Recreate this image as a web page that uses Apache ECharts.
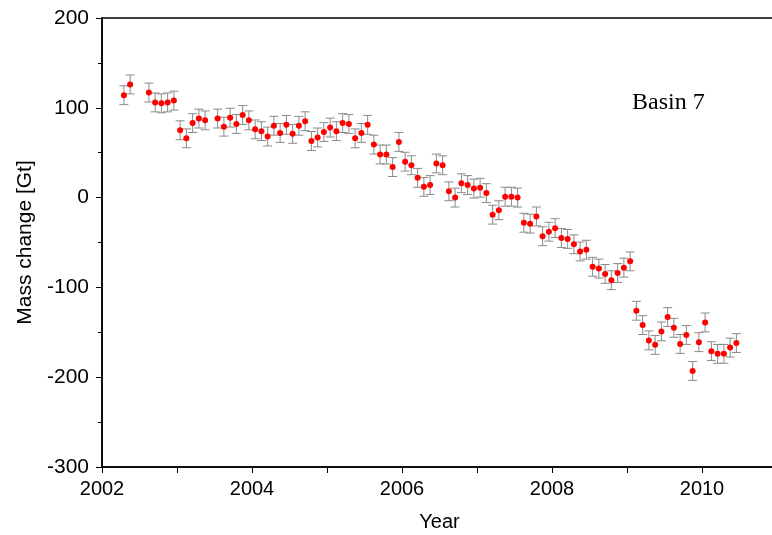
<!DOCTYPE html>
<html>
<head>
<meta charset="utf-8">
<script src="https://cdn.jsdelivr.net/npm/echarts@6/dist/echarts.min.js"></script>
<style>
html,body{margin:0;padding:0;background:#fff;}
#chart{width:772px;height:535px;}
</style>
</head>
<body>
<div id="chart"></div>
<script>
// Monthly samples (YYYY-MM) and mass change values [Gt]
var months = [
 '2002-04','2002-05','2002-08','2002-09','2002-10','2002-11','2002-12',
 '2003-01','2003-02','2003-03','2003-04','2003-05','2003-07','2003-08','2003-09','2003-10','2003-11','2003-12',
 '2004-01','2004-02','2004-03','2004-04','2004-05','2004-06','2004-07','2004-08','2004-09','2004-10','2004-11','2004-12',
 '2005-01','2005-02','2005-03','2005-04','2005-05','2005-06','2005-07','2005-08','2005-09','2005-10','2005-11','2005-12',
 '2006-01','2006-02','2006-03','2006-04','2006-05','2006-06','2006-07','2006-08','2006-09','2006-10','2006-11','2006-12',
 '2007-01','2007-02','2007-03','2007-04','2007-05','2007-06','2007-07','2007-08','2007-09','2007-10','2007-11','2007-12',
 '2008-01','2008-02','2008-03','2008-04','2008-05','2008-06','2008-07','2008-08','2008-09','2008-10','2008-11','2008-12',
 '2009-01','2009-02','2009-03','2009-04','2009-05','2009-06','2009-07','2009-08','2009-09','2009-10','2009-11','2009-12',
 '2010-01','2010-02','2010-03','2010-04','2010-05','2010-06'
];
var massChange = [
 114,126,117,106,105,106,108,
 75,66,83,88,86,88,79,89,82,92,86,
 76,74,68,80,72,81,71,80,85,63,67,73,
 78,74,83,82,66,72,81,59,48,48,34,62,
 40,36,22,12,14,38,36,7,0,16,14,10,
 11,5,-19,-14,1,1,0,-28,-29,-21,-43,-38,
 -34,-45,-46,-52,-60,-58,-77,-79,-85,-92,-84,-78,
 -71,-126,-142,-159,-164,-149,-133,-145,-163,-153,-193,-161,
 -139,-171,-174,-174,-167,-162
];
var errorGt = 10.5;
var xTicks = [2002, 2004, 2006, 2008, 2010];
var yTicks = [-300, -200, -100, 0, 100, 200];

function toYear(s){ var p = s.split('-'); return +p[0] + (+p[1] - 0.5) / 12; }
var pts = months.map(function(m, i){ return [toYear(m), massChange[i]]; });
var bars = months.map(function(m, i){ return [toYear(m), massChange[i] - errorGt, massChange[i] + errorGt]; });

var chart = echarts.init(document.getElementById('chart'), null, {renderer:'canvas'});
var font = '"Liberation Sans", Helvetica, Arial, sans-serif';
chart.setOption({
  animation:false,
  backgroundColor:'#fff',
  title:{
    text:'Basin 7', left:627, top:86,
    textStyle:{fontFamily:'"Liberation Serif", "Times New Roman", serif', fontWeight:'normal', fontSize:24, color:'#000'}
  },
  grid:{left:102, width:675, top:18, height:449, containLabel:false, outerBoundsMode:'none',
        show:true, borderColor:'#000', borderWidth:1.5, backgroundColor:'transparent'},
  xAxis:{
    type:'value', min:xTicks[0], max:2011, interval:2,
    name:'Year', nameLocation:'middle', nameGap:45,
    nameTextStyle:{fontFamily:font, fontSize:20, color:'#000'},
    axisLine:{show:true, onZero:false, lineStyle:{color:'#000', width:1.5}},
    axisTick:{show:true, length:6, lineStyle:{color:'#000', width:1}},
    minorTick:{show:true, splitNumber:2, length:6, lineStyle:{color:'#000', width:1}},
    axisLabel:{fontFamily:font, fontSize:20, color:'#000', margin:12,
      formatter:function(v){ return xTicks.indexOf(v) >= 0 ? String(v) : ''; }},
    splitLine:{show:false}
  },
  yAxis:{
    type:'value', min:yTicks[0], max:yTicks[yTicks.length-1], interval:100,
    name:'Mass change [Gt]', nameLocation:'middle', nameGap:64, nameRotate:90,
    nameTextStyle:{fontFamily:font, fontSize:21, color:'#000'},
    axisLine:{show:true, onZero:false, lineStyle:{color:'#000', width:1.5}},
    axisTick:{show:true, length:6, lineStyle:{color:'#000', width:1}},
    minorTick:{show:true, splitNumber:2, length:4, lineStyle:{color:'#000', width:1}},
    axisLabel:{fontFamily:font, fontSize:21, color:'#000', margin:13},
    splitLine:{show:false}
  },
  series:[
    {
      type:'custom',
      data:bars,
      encode:{x:0, y:[1,2]},
      z:2,
      renderItem:function(params, api){
        var x = api.value(0);
        var lo = api.coord([x, api.value(1)]);
        var hi = api.coord([x, api.value(2)]);
        var hw = 4.5;
        var st = {stroke:'#8a8a8a', lineWidth:1};
        return {type:'group', children:[
          {type:'line', shape:{x1:lo[0], y1:lo[1], x2:hi[0], y2:hi[1]}, style:st},
          {type:'line', shape:{x1:lo[0]-hw, y1:lo[1], x2:lo[0]+hw, y2:lo[1]}, style:st},
          {type:'line', shape:{x1:hi[0]-hw, y1:hi[1], x2:hi[0]+hw, y2:hi[1]}, style:st}
        ]};
      }
    },
    {
      type:'scatter',
      data:pts,
      symbol:'circle',
      symbolSize:6,
      z:3,
      itemStyle:{color:'#ff0000', opacity:1}
    }
  ]
});
</script>
</body>
</html>
